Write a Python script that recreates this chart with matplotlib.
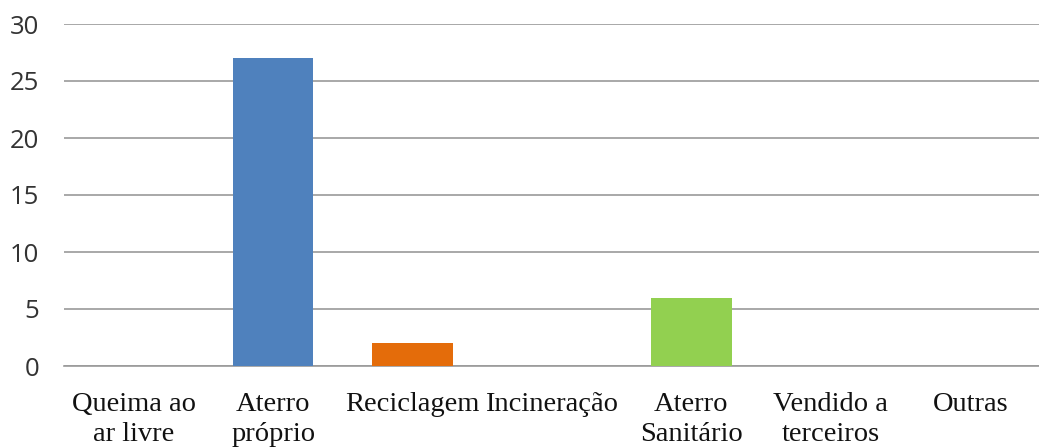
import matplotlib
matplotlib.use("Agg")
import matplotlib.pyplot as plt

categories = ["Queima ao\nar livre", "Aterro\npróprio", "Reciclagem", "Incineração",
              "Aterro\nSanitário", "Vendido a\nterceiros", "Outras"]
values = [0, 27, 2, 0, 6, 0, 0]
colors = ["#4F81BD", "#4F81BD", "#E46C0A", "#4F81BD", "#92D050", "#4F81BD", "#4F81BD"]
yticks = [0, 5, 10, 15, 20, 25, 30]

fig = plt.figure(figsize=(10.39, 4.47), dpi=100)
ax = fig.add_axes([64 / 1039, 1 - 366 / 447, 976 / 1039, 342 / 447])

x = list(range(len(categories)))
ax.bar(x, values, width=0.575, color=colors, zorder=3)

ax.set_xlim(-0.5, len(categories) - 0.5)
ax.set_ylim(0, 30)
ax.set_yticks(yticks)
ax.set_yticklabels([str(t) for t in yticks], family="Open Sans", fontsize=18.5, color="#333333")
ax.set_xticks(x)
ax.set_xticklabels(categories, family="Liberation Serif", fontsize=20.5,
                   linespacing=1.25, color="#111111")

ax.grid(axis="y", color="#9A9A9A", linewidth=1.2, zorder=0)
for s in ["top", "right", "left"]:
    ax.spines[s].set_visible(False)
ax.spines["bottom"].set_color("#9A9A9A")
ax.spines["bottom"].set_linewidth(1.2)
ax.tick_params(axis="both", length=0)
ax.tick_params(axis="y", pad=18)
ax.tick_params(axis="x", pad=19)

fig.savefig("out.png", dpi=100)
